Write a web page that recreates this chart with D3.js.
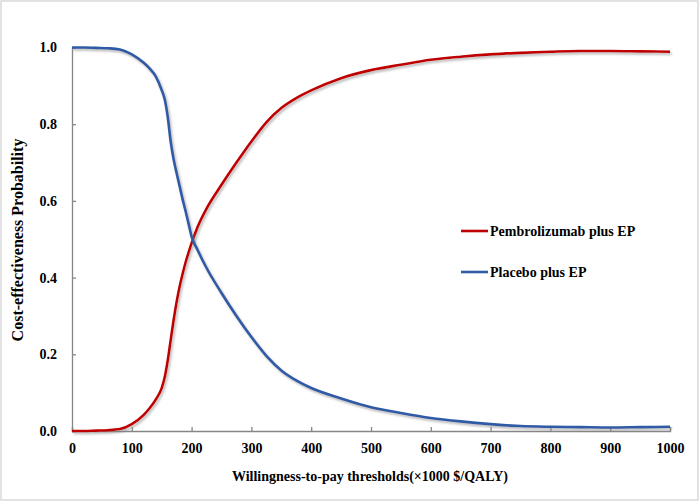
<!DOCTYPE html>
<html><head><meta charset="utf-8">
<script src="https://cdn.jsdelivr.net/npm/d3@7"></script>
<style>html,body{margin:0;padding:0;background:#fff;}svg{display:block;}</style>
</head><body>
<svg id="chart" width="700" height="502"></svg>
<script>
const wtp = [0,20,40,60,80,100,120,130,140,150,155,160,165,170,175,180,185,190,195,200,210,225,250,275,300,325,350,375,400,450,500,550,600,650,700,750,800,850,900,950,1000];
const pembro = [0,0,0.001,0.002,0.005,0.018,0.042,0.06,0.082,0.112,0.14,0.183,0.237,0.29,0.337,0.377,0.41,0.44,0.466,0.49,0.532,0.58,0.642,0.70,0.755,0.805,0.842,0.868,0.888,0.92,0.941,0.955,0.968,0.976,0.982,0.986,0.989,0.991,0.991,0.99,0.989];
const placebo = [1.0,1.0,0.999,0.998,0.995,0.982,0.96,0.945,0.925,0.889,0.865,0.82,0.755,0.708,0.672,0.638,0.604,0.573,0.54,0.507,0.472,0.425,0.36,0.30,0.245,0.196,0.158,0.132,0.112,0.085,0.062,0.047,0.034,0.025,0.018,0.013,0.011,0.01,0.009,0.01,0.011];
const seriesNames = ["Pembrolizumab plus EP","Placebo plus EP"];
const xTicks = [0,100,200,300,400,500,600,700,800,900,1000];
const yTicks = [0,0.2,0.4,0.6,0.8,1.0];
const xTitle = "Willingness-to-pay thresholds(×1000 $/QALY)";
const yTitle = "Cost-effectiveness Probability";

const svg = d3.select("#chart");
const font = "'Liberation Serif','Times New Roman',serif";
svg.append("rect").attr("x",1).attr("y",1).attr("width",697).attr("height",499)
  .attr("fill","#fff").attr("stroke","#d9d9d9").attr("stroke-width",1.5);

const defs = svg.append("defs");
const f = defs.append("filter").attr("id","sh").attr("x","-10%").attr("y","-10%").attr("width","130%").attr("height","130%");
f.append("feDropShadow").attr("dx",1.5).attr("dy",2).attr("stdDeviation",1.2)
  .attr("flood-color","#7f7f7f").attr("flood-opacity",0.55);

const x = d3.scaleLinear().domain([0,1000]).range([72,670]);
const y = d3.scaleLinear().domain([0,1]).range([431,47.5]);
const axisColor = "#868686";

const xa = svg.append("g").attr("transform","translate(0,431)")
  .call(d3.axisBottom(x).tickValues(xTicks).tickSize(-4).tickPadding(10).tickFormat(d3.format("d")));
const ya = svg.append("g").attr("transform","translate(72,0)")
  .call(d3.axisLeft(y).tickValues(yTicks).tickSize(-4).tickPadding(16).tickFormat(d3.format(".1f")));
[xa,ya].forEach(g=>{
  g.select(".domain").attr("stroke",axisColor).attr("stroke-width",1.3);
  g.selectAll(".tick line").attr("stroke",axisColor).attr("stroke-width",1.3);
  g.selectAll(".tick text").attr("fill","#000").attr("font-family",font)
    .attr("font-weight","bold").attr("font-size","14px");
});
xa.selectAll(".tick text").attr("dy","0.71em").attr("y",12);
ya.selectAll(".tick text").attr("x",-15);

const line = d3.line().x((d,i)=>x(wtp[i])).y(d=>y(d)).curve(d3.curveMonotoneX);
const colors = ["#c00000","#2f5aa6"];
[pembro,placebo].forEach((s,k)=>{
  svg.append("path").attr("d",line(s)).attr("fill","none").attr("stroke",colors[k])
    .attr("stroke-width",2.6).attr("stroke-linejoin","round").attr("filter","url(#sh)");
});

// legend
const legY = [231,272];
seriesNames.forEach((n,k)=>{
  svg.append("line").attr("x1",461).attr("x2",488).attr("y1",legY[k]).attr("y2",legY[k])
    .attr("stroke",colors[k]).attr("stroke-width",2.6);
  svg.append("text").attr("x",490).attr("y",legY[k]+5).text(n)
    .attr("font-family",font).attr("font-weight","bold").attr("font-size","14px").attr("fill","#000");
});

svg.append("text").attr("x",370).attr("y",481).attr("text-anchor","middle").text(xTitle)
  .attr("font-family",font).attr("font-weight","bold").attr("font-size","14px");
svg.append("text").attr("transform","translate(23,240) rotate(-90)").attr("text-anchor","middle").text(yTitle)
  .attr("font-family",font).attr("font-weight","bold").attr("font-size","16px");
</script>
</body></html>
